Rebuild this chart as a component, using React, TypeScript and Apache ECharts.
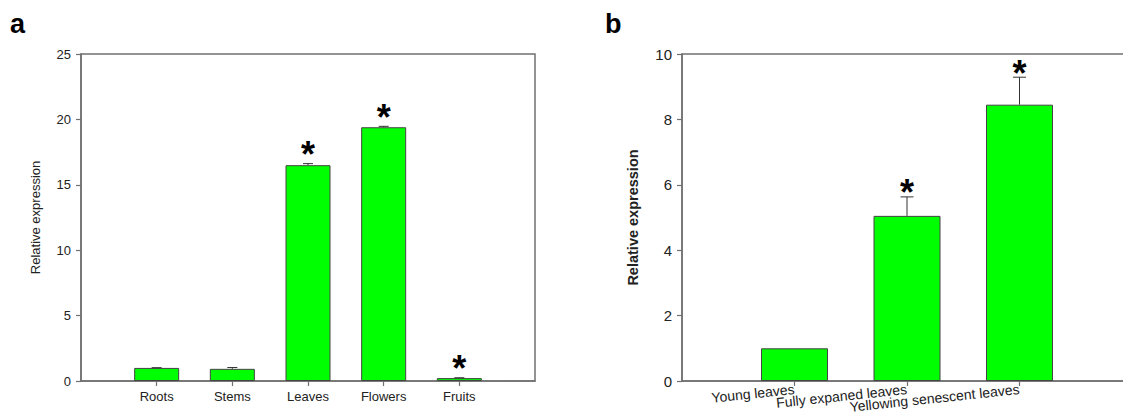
import React, { useEffect, useRef } from "react";
import * as echarts from "echarts";

const categoriesA = ["Roots", "Stems", "Leaves", "Flowers", "Fruits"];
const meansA = [1.0, 0.93, 16.5, 19.4, 0.22];
const errorsA = [0.02, 0.1, 0.12, 0.07, 0.03];
const significantA = [0, 0, 1, 1, 1];

const categoriesB = ["Young leaves", "Fully expaned leaves", "Yellowing senescent leaves"];
const meansB = [1.0, 5.05, 8.45];
const errorsB = [0, 0.58, 0.84];
const significantB = [0, 1, 1];

const yTicksA = { min: 0, max: 25, interval: 5 };
const yTicksB = { min: 0, max: 10, interval: 2 };

const GREEN = "#00ff00";
const AXIS = "#707070";
const TEXT = "#222";

function errSeries(xIdx: number, means: number[], errs: number[], sig: number[], capW: number, starGap: number) {
  return {
    type: "custom",
    xAxisIndex: xIdx,
    yAxisIndex: xIdx,
    z: 5,
    data: means.map((m, i) => [i + 1, m, errs[i], sig[i]]),
    renderItem: (params: any, api: any) => {
      const x = api.value(0);
      const m = api.value(1);
      const e = api.value(2);
      const s = api.value(3);
      const base = api.coord([x, m]);
      const top = api.coord([x, m + e]);
      const children: any[] = [];
      if (e > 0) {
        children.push({
          type: "line",
          shape: { x1: base[0], y1: base[1], x2: top[0], y2: top[1] },
          style: { stroke: "#333", lineWidth: 1 },
        });
        children.push({
          type: "line",
          shape: { x1: top[0] - capW / 2, y1: top[1], x2: top[0] + capW / 2, y2: top[1] },
          style: { stroke: "#333", lineWidth: 1 },
        });
      }
      if (s) {
        children.push({
          type: "text",
          x: top[0],
          y: top[1] - starGap,
          style: {
            text: "*",
            fontSize: 36,
            fontWeight: "bold",
            fontFamily: "Liberation Sans, Arial, sans-serif",
            fill: "#000",
            align: "center",
            verticalAlign: "middle",
          },
        });
      }
      return { type: "group", children };
    },
  };
}

export default function App() {
  const ref = useRef<HTMLDivElement>(null);
  useEffect(() => {
    if (!ref.current) return;
    const chart = echarts.init(ref.current, undefined, { renderer: "svg" });
    const font = "Liberation Sans, Arial, sans-serif";
    const axisLine = { show: true, lineStyle: { color: AXIS, width: 1.5 } };
    const axisTick = { show: true, inside: false, length: 5, lineStyle: { color: AXIS, width: 1.2 } };
    const catB = ["", ...categoriesB, ""];
    chart.setOption({
      animation: false,
      textStyle: { fontFamily: font },
      grid: [
        { left: 81, top: 54, width: 454, height: 327, show: true, borderColor: AXIS, borderWidth: 1.5, backgroundColor: "transparent", containLabel: false, outerBoundsMode: "none" },
        { left: 682, top: 54, width: 450, height: 327, show: true, borderColor: AXIS, borderWidth: 1.5, backgroundColor: "transparent", containLabel: false, outerBoundsMode: "none" },
      ],
      xAxis: [
        {
          type: "value",
          gridIndex: 0,
          min: 0,
          max: 6,
          interval: 1,
          axisLine,
          axisTick: { ...axisTick, customValues: [1, 2, 3, 4, 5] },
          splitLine: { show: false },
          axisLabel: {
            customValues: [1, 2, 3, 4, 5],
            formatter: (v: number) => categoriesA[v - 1] ?? "",
            color: TEXT,
            fontSize: 13,
            margin: 9,
          },
        },
        {
          type: "category",
          gridIndex: 1,
          data: catB,
          boundaryGap: false,
          axisLine,
          axisTick: { ...axisTick, interval: (i: number) => i > 0 && i < catB.length - 1 },
          splitLine: { show: false },
          axisLabel: {
            interval: 0,
            color: TEXT,
            fontSize: 14,
            rotate: 6,
            margin: 8,
            hideOverlap: false,
          },
        },
      ],
      yAxis: [
        {
          type: "value",
          gridIndex: 0,
          ...yTicksA,
          axisLine,
          axisTick,
          splitLine: { show: false },
          axisLabel: { color: TEXT, fontSize: 13, margin: 10 },
          name: "Relative expression",
          nameLocation: "middle",
          nameGap: 39,
          nameTextStyle: { color: TEXT, fontSize: 13 },
        },
        {
          type: "value",
          gridIndex: 1,
          ...yTicksB,
          axisLine,
          axisTick,
          splitLine: { show: false },
          axisLabel: { color: TEXT, fontSize: 15, margin: 10 },
          name: "Relative expression",
          nameLocation: "middle",
          nameGap: 42,
          nameTextStyle: { color: TEXT, fontSize: 14.5, fontWeight: "bold" },
        },
      ],
      series: [
        {
          type: "bar",
          xAxisIndex: 0,
          yAxisIndex: 0,
          barWidth: 45,
          data: meansA.map((m, i) => [i + 1, m]),
          itemStyle: { color: GREEN, borderColor: "#444", borderWidth: 1 },
        },
        errSeries(0, meansA, errorsA, significantA, 10, 9),
        {
          type: "bar",
          xAxisIndex: 1,
          yAxisIndex: 1,
          barWidth: 67,
          data: meansB.map((m, i) => [i + 1, m]),
          itemStyle: { color: GREEN, borderColor: "#444", borderWidth: 1 },
        },
        errSeries(1, meansB, errorsB, significantB, 13, 4),
      ],
      graphic: [
        { type: "text", left: 10, top: 10, style: { text: "a", fontSize: 27, fontWeight: "bold", fill: "#000", fontFamily: font } },
        { type: "text", left: 605, top: 10, style: { text: "b", fontSize: 27, fontWeight: "bold", fill: "#000", fontFamily: font } },
      ],
    });
    return () => chart.dispose();
  }, []);
  return <div ref={ref} style={{ position: "absolute", left: 0, top: 0, width: 1123, height: 419 }} />;
}
